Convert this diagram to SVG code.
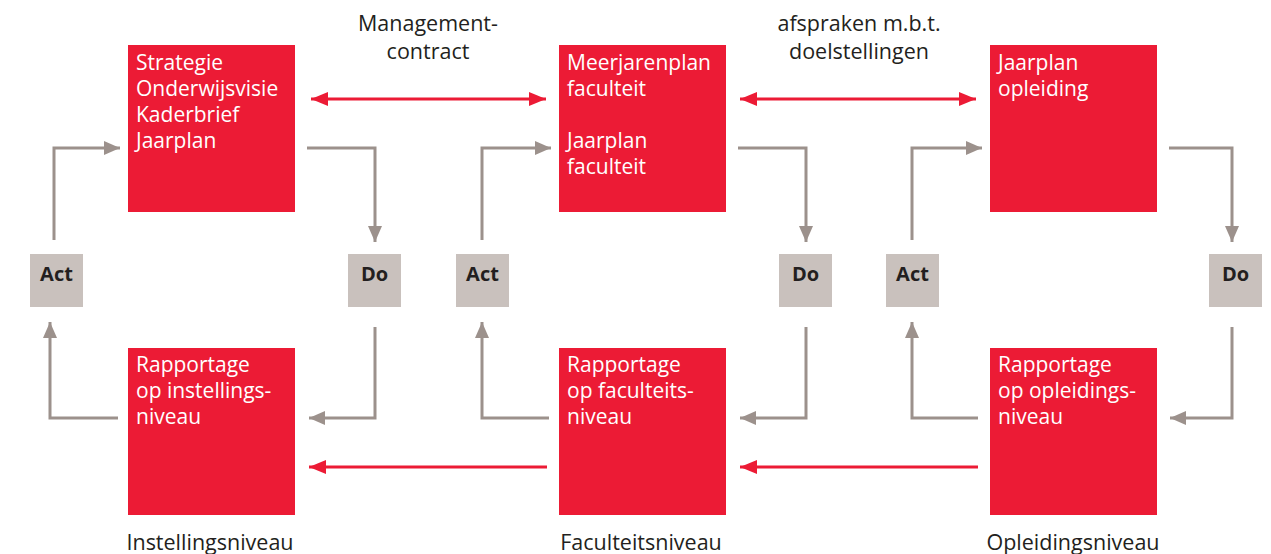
<svg xmlns="http://www.w3.org/2000/svg" width="1271" height="554" viewBox="0 0 1271 554">
<style>
.box{fill:#ec1b35}
.pd{fill:#c9c1bd}
.bt{font-family:"Open Sans","Noto Sans",sans-serif;font-size:21px;fill:#fff}
.pt{font-family:"Open Sans","Noto Sans",sans-serif;font-size:20px;font-weight:bold;fill:#231f20;text-anchor:middle}
.lt{font-family:"Open Sans","Noto Sans",sans-serif;font-size:21.5px;fill:#231f20;text-anchor:middle}
.g{fill:none;stroke:#9c918c;stroke-width:3}
.r{fill:none;stroke:#ec1b35;stroke-width:3}
</style>
<defs>
<marker id="ga" markerUnits="userSpaceOnUse" markerWidth="18" markerHeight="14" refX="16" refY="7" orient="auto"><path d="M0,0 L16,7 L0,14 z" fill="#9c918c"/></marker>
<marker id="ra" markerUnits="userSpaceOnUse" markerWidth="18" markerHeight="14" refX="17" refY="7" orient="auto-start-reverse"><path d="M0,0 L17,7 L0,14 z" fill="#ec1b35"/></marker>
</defs>
<g id="connectors">
<path class="r" d="M311,99 H546" marker-start="url(#ra)" marker-end="url(#ra)"/>
<path class="r" d="M740,99 H976" marker-start="url(#ra)" marker-end="url(#ra)"/>
<path class="r" d="M547,467 H309" marker-end="url(#ra)"/>
<path class="r" d="M978,467 H740" marker-end="url(#ra)"/>
<path class="g" d="M54,240 V148 H120" marker-end="url(#ga)"/>
<path class="g" d="M307,148 H375 V242" marker-end="url(#ga)"/>
<path class="g" d="M375,327 V418 H309" marker-end="url(#ga)"/>
<path class="g" d="M118,418 H50 V322" marker-end="url(#ga)"/>
<path class="g" d="M482,240 V148 H551" marker-end="url(#ga)"/>
<path class="g" d="M738,148 H806 V242" marker-end="url(#ga)"/>
<path class="g" d="M806,327 V418 H740" marker-end="url(#ga)"/>
<path class="g" d="M549,418 H482 V322" marker-end="url(#ga)"/>
<path class="g" d="M912,240 V148 H982" marker-end="url(#ga)"/>
<path class="g" d="M1169,148 H1232 V242" marker-end="url(#ga)"/>
<path class="g" d="M1232,327 V418 H1170" marker-end="url(#ga)"/>
<path class="g" d="M978,418 H912 V322" marker-end="url(#ga)"/>
</g>
<g id="n-strategie"><rect class="box" x="128" y="45" width="167" height="167"/>
<text class="bt" x="136" y="70">Strategie</text><text class="bt" x="136" y="96">Onderwijsvisie</text><text class="bt" x="136" y="122">Kaderbrief</text><text class="bt" x="136" y="148">Jaarplan</text></g>
<g id="n-meerjarenplan"><rect class="box" x="559" y="45" width="167" height="167"/>
<text class="bt" x="567" y="70">Meerjarenplan</text><text class="bt" x="567" y="96">faculteit</text><text class="bt" x="567" y="148">Jaarplan</text><text class="bt" x="567" y="174">faculteit</text></g>
<g id="n-jaarplan"><rect class="box" x="990" y="45" width="167" height="167"/>
<text class="bt" x="998" y="70">Jaarplan</text><text class="bt" x="998" y="96">opleiding</text></g>
<g id="n-rap1"><rect class="box" x="128" y="348" width="167" height="167"/>
<text class="bt" x="136" y="372">Rapportage</text><text class="bt" x="136" y="398">op instellings-</text><text class="bt" x="136" y="424">niveau</text></g>
<g id="n-rap2"><rect class="box" x="559" y="348" width="167" height="167"/>
<text class="bt" x="567" y="372">Rapportage</text><text class="bt" x="567" y="398">op faculteits-</text><text class="bt" x="567" y="424">niveau</text></g>
<g id="n-rap3"><rect class="box" x="990" y="348" width="167" height="167"/>
<text class="bt" x="998" y="372">Rapportage</text><text class="bt" x="998" y="398">op opleidings-</text><text class="bt" x="998" y="424">niveau</text></g>
<g id="n-act1"><rect class="pd" x="30" y="254" width="53" height="53"/><text class="pt" x="56.5" y="281">Act</text></g>
<g id="n-do1"><rect class="pd" x="348" y="254" width="53" height="53"/><text class="pt" x="374.5" y="281">Do</text></g>
<g id="n-act2"><rect class="pd" x="456" y="254" width="53" height="53"/><text class="pt" x="482.5" y="281">Act</text></g>
<g id="n-do2"><rect class="pd" x="779" y="254" width="53" height="53"/><text class="pt" x="805.5" y="281">Do</text></g>
<g id="n-act3"><rect class="pd" x="886" y="254" width="53" height="53"/><text class="pt" x="912.5" y="281">Act</text></g>
<g id="n-do3"><rect class="pd" x="1209" y="254" width="53" height="53"/><text class="pt" x="1235.5" y="281">Do</text></g>
<g id="labels">
<text class="lt" x="428" y="31">Management-</text><text class="lt" x="428" y="59">contract</text>
<text class="lt" x="859" y="31">afspraken m.b.t.</text><text class="lt" x="859" y="59">doelstellingen</text>
<text class="lt" x="210" y="550">Instellingsniveau</text>
<text class="lt" x="641" y="550">Faculteitsniveau</text>
<text class="lt" x="1073" y="550">Opleidingsniveau</text>
</g>
</svg>
